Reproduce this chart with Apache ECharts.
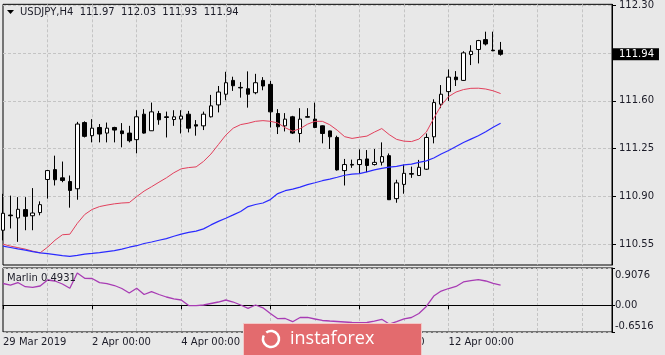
<!DOCTYPE html>
<html>
<head>
<meta charset="utf-8">
<script src="https://cdn.jsdelivr.net/npm/echarts@6/dist/echarts.min.js"></script>
<style>
html, body { margin: 0; padding: 0; background: #e8e8e8; }
#chart { width: 665px; height: 355px; }
</style>
</head>
<body>
<div id="chart"></div>
<script>
// USDJPY H4 bars: [open, close, low, high]
var candles = [
  [110.654, 110.778, 110.580, 110.920], [110.765, 110.760, 110.667, 110.907],
  [110.744, 110.807, 110.569, 110.896], [110.805, 110.756, 110.654, 110.896],
  [110.760, 110.780, 110.654, 110.962], [110.783, 110.841, 110.763, 110.865],
  [111.025, 111.090, 110.885, 111.095], [111.097, 111.023, 110.981, 111.199],
  [111.037, 111.018, 111.005, 111.156], [111.010, 110.945, 110.819, 111.054],
  [110.957, 111.430, 110.877, 111.446], [111.441, 111.340, 111.332, 111.450],
  [111.345, 111.400, 111.296, 111.466], [111.405, 111.357, 111.296, 111.430],
  [111.364, 111.400, 111.296, 111.441], [111.405, 111.386, 111.296, 111.410],
  [111.380, 111.360, 111.260, 111.437], [111.364, 111.308, 111.296, 111.417],
  [111.316, 111.483, 111.216, 111.531], [111.502, 111.364, 111.360, 111.539],
  [111.381, 111.519, 111.380, 111.587], [111.507, 111.461, 111.425, 111.526],
  [111.483, 111.478, 111.332, 111.521], [111.463, 111.483, 111.417, 111.531],
  [111.466, 111.488, 111.361, 111.531], [111.502, 111.400, 111.369, 111.526],
  [111.425, 111.415, 111.345, 111.459], [111.417, 111.502, 111.386, 111.521],
  [111.483, 111.563, 111.478, 111.643], [111.570, 111.664, 111.515, 111.708],
  [111.648, 111.732, 111.604, 111.812], [111.749, 111.710, 111.672, 111.776],
  [111.698, 111.694, 111.623, 111.737], [111.688, 111.648, 111.550, 111.815],
  [111.659, 111.732, 111.648, 111.797], [111.749, 111.708, 111.677, 111.773],
  [111.720, 111.519, 111.405, 111.745], [111.507, 111.410, 111.357, 111.539],
  [111.417, 111.466, 111.376, 111.510], [111.483, 111.364, 111.357, 111.490],
  [111.361, 111.466, 111.296, 111.546], [111.484, 111.480, 111.478, 111.546],
  [111.466, 111.405, 111.400, 111.587], [111.417, 111.361, 111.289, 111.420],
  [111.380, 111.337, 111.248, 111.382], [111.332, 111.095, 111.090, 111.345],
  [111.090, 111.134, 110.981, 111.175], [111.135, 111.130, 111.110, 111.170],
  [111.134, 111.170, 111.066, 111.245], [111.175, 111.127, 111.078, 111.240],
  [111.134, 111.150, 111.127, 111.248], [111.151, 111.192, 111.127, 111.296],
  [111.199, 110.877, 110.875, 111.215], [110.885, 111.000, 110.855, 111.023],
  [110.989, 111.070, 110.921, 111.134], [111.068, 111.064, 111.037, 111.119],
  [111.054, 111.114, 111.050, 111.168], [111.100, 111.332, 111.095, 111.361],
  [111.337, 111.587, 111.289, 111.611], [111.575, 111.648, 111.546, 111.715],
  [111.667, 111.773, 111.599, 111.829], [111.773, 111.754, 111.708, 111.817],
  [111.749, 111.950, 111.745, 111.962], [111.938, 111.962, 111.861, 112.006],
  [111.975, 112.040, 111.873, 112.045], [112.047, 112.015, 112.004, 112.105],
  [111.970, 111.966, 111.962, 112.105], [111.970, 111.940, 111.930, 112.030]
];

// red moving average
var maFast = [
  110.552, 110.538, 110.527, 110.516, 110.501, 110.489, 110.530, 110.581, 110.621, 110.625,
  110.704, 110.769, 110.806, 110.827, 110.838, 110.847, 110.853, 110.856, 110.900, 110.940,
  110.972, 111.005, 111.037, 111.074, 111.103, 111.112, 111.117, 111.157, 111.211, 111.280,
  111.349, 111.400, 111.426, 111.436, 111.450, 111.455, 111.450, 111.438, 111.403, 111.378,
  111.396, 111.429, 111.450, 111.450, 111.425, 111.385, 111.338, 111.325, 111.334, 111.342,
  111.371, 111.397, 111.353, 111.318, 111.305, 111.302, 111.320, 111.371, 111.472, 111.566,
  111.631, 111.664, 111.682, 111.691, 111.692, 111.686, 111.673, 111.653
];

// blue moving average
var maSlow = [
  110.538, 110.528, 110.518, 110.509, 110.498, 110.489, 110.483, 110.476, 110.469, 110.463,
  110.470, 110.480, 110.485, 110.491, 110.498, 110.505, 110.516, 110.530, 110.541, 110.557,
  110.568, 110.581, 110.593, 110.610, 110.626, 110.639, 110.648, 110.664, 110.693, 110.719,
  110.742, 110.766, 110.791, 110.827, 110.842, 110.853, 110.878, 110.922, 110.943, 110.954,
  110.969, 110.987, 111.001, 111.016, 111.028, 111.041, 111.056, 111.064, 111.068, 111.081,
  111.095, 111.106, 111.115, 111.121, 111.132, 111.137, 111.150, 111.161, 111.182, 111.211,
  111.237, 111.266, 111.295, 111.320, 111.345, 111.374, 111.407, 111.436
];

// Marlin oscillator
var marlin = [
  0.530, 0.493, 0.554, 0.452, 0.437, 0.469, 0.615, 0.591, 0.518, 0.413,
  0.786, 0.657, 0.652, 0.550, 0.525, 0.481, 0.408, 0.299, 0.413, 0.262,
  0.330, 0.262, 0.201, 0.157, 0.128, -0.006, -0.011, 0.006, 0.043, 0.079,
  0.128, 0.079, 0.006, -0.074, 0.006, -0.062, -0.201, -0.328, -0.323, -0.401,
  -0.298, -0.298, -0.335, -0.371, -0.384, -0.396, -0.408, -0.420, -0.425, -0.420,
  -0.384, -0.342, -0.457, -0.401, -0.330, -0.298, -0.201, -0.030, 0.225, 0.347,
  0.408, 0.457, 0.567, 0.598, 0.627, 0.591, 0.535, 0.4931
];

var slotCount = 83; // bars plus the empty space on the right
var xLabels = { 0: '29 Mar 2019', 12: '2 Apr 00:00', 24: '4 Apr 00:00', 36: '8 Apr 00:00', 48: '10 Apr 00:00', 60: '12 Apr 00:00' };
var priceTicks = [110.55, 110.90, 111.25, 111.60, 111.95, 112.30];
var priceLabels = [110.55, 110.90, 111.25, 111.60, 112.30];
var marlinTicks = [0.9076, 0, -0.6516];
var lastPrice = 111.94;

var slots = [];
for (var i = 0; i < slotCount; i++) slots.push(String(i));

var textColor = '#1c1c28';
var font = 'DejaVu Sans';
var dashed = { color: '#c4c4c4', type: [3, 2], width: 1 };

function labelAt(index) { return xLabels[index] !== undefined; }
function gridAt(index) { return index > 0 && index % 6 === 0; }

var last = candles[candles.length - 1];
var headerText = 'USDJPY,H4  ' + last[0].toFixed(2) + '  ' + last[3].toFixed(2) + '  ' + last[2].toFixed(2) + '  ' + last[1].toFixed(2);

var chart = echarts.init(document.getElementById('chart'));
var option = {
  backgroundColor: '#e8e8e8',
  animation: false,
  grid: [
    { left: 3, right: 53, top: 2, height: 263, show: true, borderColor: '#000', borderWidth: 1 },
    { left: 3, right: 53, top: 268, height: 64, show: true, borderColor: '#000', borderWidth: 1 }
  ],
  xAxis: [
    {
      type: 'category', gridIndex: 0, data: slots, boundaryGap: false,
      axisLine: { show: false }, axisTick: { show: false }, axisLabel: { show: false },
      splitLine: { show: true, interval: gridAt, lineStyle: dashed }
    },
    {
      type: 'category', gridIndex: 1, data: slots, boundaryGap: false,
      axisLine: { show: true, lineStyle: { color: '#000' } },
      axisTick: { show: true, length: 4, interval: labelAt, lineStyle: { color: '#000' } },
      axisLabel: {
        interval: labelAt, align: 'left', margin: 5,
        color: textColor, fontFamily: font, fontSize: 10,
        formatter: function (v, idx) { return xLabels[idx] || ''; }
      },
      splitLine: { show: true, interval: gridAt, lineStyle: dashed }
    }
  ],
  yAxis: [
    {
      type: 'value', gridIndex: 0, position: 'right', min: 110.40, max: 112.305,
      axisLine: { show: true, lineStyle: { color: '#000' } },
      axisTick: { show: true, length: 4, customValues: priceTicks, lineStyle: { color: '#000' } },
      axisLabel: {
        customValues: priceLabels, margin: 7, color: textColor, fontFamily: font, fontSize: 10,
        formatter: function (v) { return v.toFixed(2); }
      },
      splitLine: { show: true, lineStyle: dashed }
    },
    {
      type: 'value', gridIndex: 1, position: 'right', min: -0.6516, max: 0.9076,
      axisLine: { show: true, lineStyle: { color: '#000' } },
      axisTick: { show: true, length: 3, customValues: marlinTicks, lineStyle: { color: '#000' } },
      axisLabel: {
        customValues: marlinTicks, margin: 3, color: textColor, fontFamily: font, fontSize: 10,
        formatter: function (v) {
          if (v > 0.5) return '{t|' + v.toFixed(4) + '}';
          if (v < -0.5) return '{b|' + v.toFixed(4) + '}';
          return v.toFixed(2);
        },
        rich: {
          t: { padding: [15, 0, 0, 0], color: textColor, fontFamily: font, fontSize: 10 },
          b: { padding: [0, 0, 12, 0], color: textColor, fontFamily: font, fontSize: 10 }
        }
      },
      splitLine: { show: true, lineStyle: dashed }
    }
  ],
  series: [
    {
      type: 'candlestick', xAxisIndex: 0, yAxisIndex: 0, data: candles, barWidth: 4,
      itemStyle: { color: '#ffffff', color0: '#000000', borderColor: '#000000', borderColor0: '#000000', borderWidth: 1 }
    },
    {
      type: 'line', xAxisIndex: 0, yAxisIndex: 0, data: maFast, symbol: 'none',
      lineStyle: { color: '#e2405c', width: 1 }
    },
    {
      type: 'line', xAxisIndex: 0, yAxisIndex: 0, data: maSlow, symbol: 'none',
      lineStyle: { color: '#2b2bff', width: 1.2 }
    },
    {
      type: 'line', xAxisIndex: 0, yAxisIndex: 0, data: [], clip: false,
      markLine: {
        silent: true, symbol: 'none',
        lineStyle: { color: 'transparent', width: 0 },
        data: [{ yAxis: lastPrice }],
        label: {
          position: 'end', distance: 1, formatter: lastPrice.toFixed(2),
          backgroundColor: '#000', color: '#fff', fontFamily: font, fontSize: 10,
          lineHeight: 12, padding: [0, 5, 0, 6]
        }
      }
    },
    {
      type: 'line', xAxisIndex: 1, yAxisIndex: 1, data: marlin, symbol: 'none',
      lineStyle: { color: '#a83cb4', width: 1.3 }
    }
  ],
  graphic: [
    { type: 'polygon', shape: { points: [[7, 10], [14, 10], [10.5, 14]] }, style: { fill: '#000' }, z: 50 },
    { type: 'text', x: 20, y: 12, style: { text: headerText, fill: textColor, font: '10px "DejaVu Sans"', verticalAlign: 'middle' }, z: 50 },
    { type: 'text', x: 7, y: 278, style: { text: 'Marlin ' + marlin[marlin.length - 1].toFixed(4), fill: textColor, font: '10px "DejaVu Sans"', verticalAlign: 'middle' }, z: 50 },
    { type: 'rect', zlevel: 1, z: 100, shape: { x: 243.5, y: 323.5, width: 178, height: 34 }, style: { fill: '#e36b6e', stroke: '#f3c8c8', lineWidth: 1 } },
    { type: 'arc', zlevel: 1, z: 101, shape: { cx: 271, cy: 339, r: 8, startAngle: -2.2, endAngle: 3.6 }, style: { fill: 'none', stroke: '#fff', lineWidth: 2.5 } },
    { type: 'text', zlevel: 1, z: 101, x: 290, y: 339, style: { text: 'instaforex', fill: '#fff', font: '18px "Open Sans"', verticalAlign: 'middle' } }
  ]
};
chart.setOption(option);
</script>
</body>
</html>
